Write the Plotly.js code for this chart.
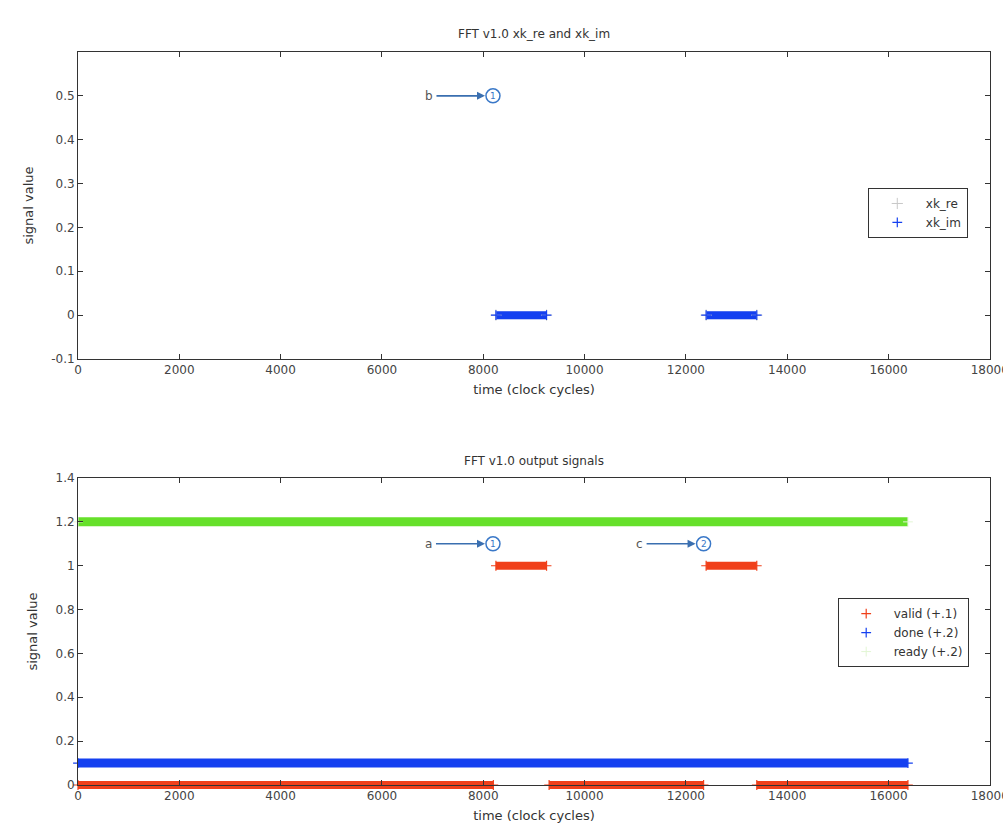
<!DOCTYPE html>
<html>
<head>
<meta charset="utf-8">
<script src="https://cdn.plot.ly/plotly-3.0.1.min.js"></script>
<style>html,body{margin:0;padding:0;background:#fff;overflow:hidden;}#chart{width:1003px;height:839px;}</style>
</head>
<body>
<div id="chart"></div>
<script>
// ---- Top subplot data: FFT v1.0 xk_re and xk_im ----
const xkImX = [8250, 9250, null, 12400, 13400];
const xkImY = [0, 0, null, 0, 0];
const xkReX = [8250, 9250, null, 12400, 13400];
const xkReY = [0, 0, null, 0, 0];

// ---- Bottom subplot data: FFT v1.0 output signals ----
const validX = [0, 8200, null, 8250, 9250, null, 9300, 12350, null, 12400, 13400, null, 13400, 16384];
const validY = [0, 0, null, 1, 1, null, 0, 0, null, 1, 1, null, 0, 0];
const doneX = [0, 16384];
const doneY = [0.1, 0.1];
const readyX = [0, 16384];
const readyY = [1.2, 1.2];

// tick labels
const xTickVals = [0, 2000, 4000, 6000, 8000, 10000, 12000, 14000, 16000, 18000];
const xTickText = ["0", "2000", "4000", "6000", "8000", "10000", "12000", "14000", "16000", "18000"];
const yTopVals = [-0.1, 0, 0.1, 0.2, 0.3, 0.4, 0.5];
const yTopText = ["-0.1", "0", "0.1", "0.2", "0.3", "0.4", "0.5"];
const yBotVals = [0, 0.2, 0.4, 0.6, 0.8, 1, 1.2, 1.4];
const yBotText = ["0", "0.2", "0.4", "0.6", "0.8", "1", "1.2", "1.4"];

// annotation markers (time, value, label, circled number)
const markerTimes = [8192, 8192, 12350];
const markerValues = [0.5, 1.1, 1.1];
const markerLabels = ["b", "a", "c"];
const markerNums = ["1", "1", "2"];
const markerAxes = ["top", "bot", "bot"];

const BLUE = "#1440f0", RED = "#f0401a", GREEN = "#66e02a";
const FONT = "DejaVu Sans, Liberation Sans, Arial, sans-serif";

function endpoints(xs, ys) {
  const ex = [], ey = [];
  for (let i = 0; i < xs.length; i++) {
    if (xs[i] === null) continue;
    ex.push(xs[i]); ey.push(ys[i]);
  }
  return [ex, ey];
}

const traces = [];
// top lines
traces.push({x: xkReX, y: xkReY, xaxis: "x", yaxis: "y", mode: "lines", line: {color: "#e8e8e8", width: 8}, showlegend: false, connectgaps: false, hoverinfo: "skip"});
traces.push({x: xkImX, y: xkImY, xaxis: "x", yaxis: "y", mode: "lines", line: {color: BLUE, width: 8}, showlegend: false, connectgaps: false, hoverinfo: "skip"});
let e;
e = endpoints(xkReX, xkReY);
traces.push({x: e[0], y: e[1], xaxis: "x", yaxis: "y", mode: "markers", name: "xk_re", marker: {symbol: "cross-thin-open", size: 8, color: "#c8c8c8", line: {color: "#c0c0c0", width: 1}}, legend: "legend"});
e = endpoints(xkImX, xkImY);
traces.push({x: e[0], y: e[1], xaxis: "x", yaxis: "y", mode: "markers", name: "xk_im", marker: {symbol: "cross-thin-open", size: 7, color: BLUE, line: {color: BLUE, width: 1.2}}, legend: "legend"});

// bottom lines
traces.push({x: readyX, y: readyY, xaxis: "x2", yaxis: "y2", mode: "lines", line: {color: GREEN, width: 9}, showlegend: false, hoverinfo: "skip"});
traces.push({x: doneX, y: doneY, xaxis: "x2", yaxis: "y2", mode: "lines", line: {color: BLUE, width: 9}, showlegend: false, hoverinfo: "skip"});
traces.push({x: validX, y: validY, xaxis: "x2", yaxis: "y2", mode: "lines", line: {color: RED, width: 8}, showlegend: false, connectgaps: false, cliponaxis: false, hoverinfo: "skip"});
e = endpoints(validX, validY);
traces.push({x: e[0], y: e[1], xaxis: "x2", yaxis: "y2", mode: "markers", name: "valid (+.1)", cliponaxis: false, marker: {symbol: "cross-thin-open", size: 7, color: RED, line: {color: RED, width: 1.2}}, legend: "legend2"});
e = endpoints(doneX, doneY);
traces.push({x: e[0], y: e[1], xaxis: "x2", yaxis: "y2", mode: "markers", name: "done (+.2)", marker: {symbol: "cross-thin-open", size: 7, color: BLUE, line: {color: BLUE, width: 1.2}}, legend: "legend2"});
e = endpoints(readyX, readyY);
traces.push({x: e[0], y: e[1], xaxis: "x2", yaxis: "y2", mode: "markers", name: "ready (+.2)", marker: {symbol: "cross-thin-open", size: 7, color: "#e2f6d4", line: {color: "#e2f6d4", width: 1}}, legend: "legend2"});

const axisCommon = {
  showline: true, linecolor: "#333", linewidth: 1, mirror: "ticks",
  ticks: "inside", ticklen: 5, tickcolor: "#333", showgrid: false, zeroline: false,
  ticklabeloverflow: "allow",
  tickfont: {family: FONT, size: 12, color: "#444"}
};
const axTitleFont = {family: FONT, size: 13, color: "#333"};

const shapes = [], annotations = [];
for (let i = 0; i < markerTimes.length; i++) {
  const xr = markerAxes[i] === "top" ? "x" : "x2";
  const yr = markerAxes[i] === "top" ? "y" : "y2";
  shapes.push({type: "circle", xref: xr, yref: yr, xsizemode: "pixel", ysizemode: "pixel",
    xanchor: markerTimes[i], yanchor: markerValues[i], x0: -7, x1: 7, y0: -7, y1: 7,
    line: {color: "#3a78c8", width: 1.5}, fillcolor: "rgba(0,0,0,0)"});
  annotations.push({xref: xr, yref: yr, x: markerTimes[i], y: markerValues[i], text: markerNums[i],
    showarrow: false, font: {family: FONT, size: 9, color: "#3a78c8"}});
  annotations.push({xref: xr, yref: yr, x: markerTimes[i], y: markerValues[i], text: markerLabels[i],
    showarrow: true, ax: -64, ay: 0, axref: "pixel", ayref: "pixel", arrowhead: 2, arrowsize: 1,
    arrowwidth: 1.6, arrowcolor: "#3a6fb0", standoff: 8, startstandoff: 2,
    font: {family: FONT, size: 12, color: "#555"}});
}
annotations.push({xref: "paper", yref: "paper", x: 0.5, y: 1, yanchor: "bottom", yshift: 9, text: "FFT v1.0 xk_re and xk_im", showarrow: false, font: {family: FONT, size: 12, color: "#333"}});
annotations.push({xref: "paper", yref: "paper", x: 0.5, y: 0.4188, yanchor: "bottom", yshift: 8, text: "FFT v1.0 output signals", showarrow: false, font: {family: FONT, size: 12, color: "#333"}});

const layout = {
  width: 1003, height: 839,
  margin: {l: 78, r: 13, t: 52, b: 54},
  paper_bgcolor: "#fff", plot_bgcolor: "#fff",
  font: {family: FONT, size: 11, color: "#333"},
  xaxis: Object.assign({}, axisCommon, {domain: [0, 1], anchor: "y", range: [0, 18004], tickvals: xTickVals, ticktext: xTickText,
    title: {text: "time (clock cycles)", font: axTitleFont, standoff: 8}}),
  yaxis: Object.assign({}, axisCommon, {domain: [0.5812, 1], anchor: "x", range: [-0.1, 0.6], tickvals: yTopVals, ticktext: yTopText,
    title: {text: "signal value", font: axTitleFont, standoff: 14}}),
  xaxis2: Object.assign({}, axisCommon, {domain: [0, 1], anchor: "y2", range: [0, 18004], tickvals: xTickVals, ticktext: xTickText,
    title: {text: "time (clock cycles)", font: axTitleFont, standoff: 8}}),
  yaxis2: Object.assign({}, axisCommon, {domain: [0, 0.4188], anchor: "x2", range: [0, 1.4], tickvals: yBotVals, ticktext: yBotText,
    title: {text: "signal value", font: axTitleFont, standoff: 14}}),
  legend: {x: 0.866, y: 0.8145, xanchor: "left", yanchor: "top", bgcolor: "#fff", bordercolor: "#333", borderwidth: 1,
    font: {family: FONT, size: 12, color: "#333"}, tracegroupgap: 0, itemwidth: 47},
  legend2: {x: 0.833, y: 0.255, xanchor: "left", yanchor: "top", bgcolor: "#fff", bordercolor: "#333", borderwidth: 1,
    font: {family: FONT, size: 12, color: "#333"}, tracegroupgap: 0, itemwidth: 45},
  shapes: shapes,
  annotations: annotations
};

Plotly.newPlot("chart", traces, layout, {displayModeBar: false, staticPlot: true}).then(function (gd) {
  // let the thick bands at the axis edge overflow the frame like in the original figure
  gd.querySelectorAll(".cartesianlayer [clip-path]").forEach(function (el) { el.removeAttribute("clip-path"); });
});
</script>
</body>
</html>
